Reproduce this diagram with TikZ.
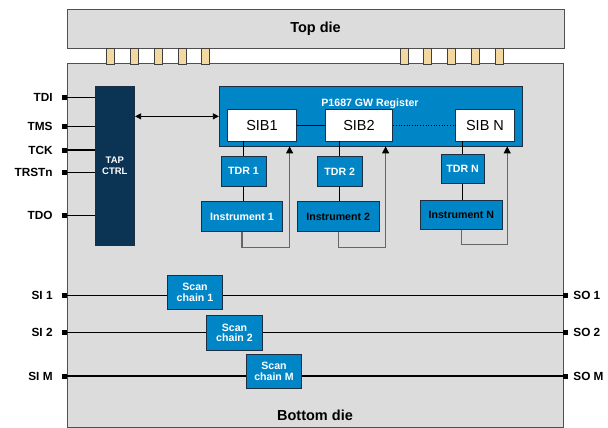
\documentclass[tikz,border=0pt]{standalone}
\usepackage{fontspec}
\setmainfont{Liberation Sans}
\usepackage{tikz}
\usetikzlibrary{arrows.meta,positioning,calc}
\definecolor{diegray}{HTML}{DCDCDC}
\definecolor{dieedge}{HTML}{505050}
\definecolor{gwblue}{HTML}{0086C6}
\definecolor{tapnavy}{HTML}{0B3354}
\definecolor{bumptan}{HTML}{F3D89F}
\definecolor{boxedge}{HTML}{1C2E40}
\newcommand{\fsz}[1]{\fontsize{#1}{#1}\selectfont}

\begin{document}
\begin{tikzpicture}[
  x=1pt, y=-1pt,
  die/.style={draw=dieedge, fill=diegray, line width=0.9pt, inner sep=0},
  bump/.style={draw=black!75, fill=bumptan, line width=0.6pt,
               minimum width=8pt, minimum height=16pt, inner sep=0},
  blk/.style={draw=boxedge, fill=gwblue, line width=0.8pt, inner sep=0,
              align=center, text=white, font=\bfseries\fsz{10.6}},
  sib/.style={draw=boxedge, fill=white, line width=0.8pt, inner sep=0,
              font=\fsz{14.5}},
  pin/.style={fill=black, minimum size=5pt, inner sep=0},
  pinlbl/.style={inner sep=0, font=\bfseries\fsz{11.8}},
  wire/.style={line width=1.3pt},
  lnk/.style={line width=0.7pt},
  fb/.style={draw=black!60, line width=1.2pt,
             -{Triangle[length=7pt,width=7pt,color=black]}},
  dbl/.style={line width=0.8pt,
              {Triangle[length=6pt,width=6pt]}-{Triangle[length=6pt,width=6pt]}}
]
\useasboundingbox (0,0) rectangle (608,428);

% dies
\node[die, minimum width=497pt, minimum height=39pt, font=\bfseries\fsz{14.5}]
  (top) at (315.5,28.5) {Top die};
\node[die, minimum width=496pt, minimum height=364pt] (bot) at (315,245) {};
\node[anchor=base, inner sep=0, font=\bfseries\fsz{14.5}] (botlbl) at (315,420.5) {Bottom die};

\foreach \i in {0,...,4} {
  \node[bump] (bumpL\i) at (110.7+23.75*\i,56) {};
  \node[bump] (bumpR\i) at (404+23.7*\i,56) {};
}

% TAP controller and JTAG pins
\node[draw=boxedge, fill=tapnavy, line width=0.8pt, minimum width=39.7pt,
      minimum height=158.3pt, inner sep=0, align=center, text=white,
      font=\bfseries\fsz{9.5}] (tap) at (114.85,165.85) {TAP\\[1pt]CTRL};

\foreach \nm/\y in {TDI/97.3, TMS/126.7, TCK/150, TRSTn/172.3, TDO/215.7} {
  \node[pin] (pin\nm) at (64.5,\y) {};
  \node[pinlbl, left=9pt of pin\nm] (lbl\nm) {\nm};
  \draw[wire] (pin\nm) -- (pin\nm -| tap.west);
}

% P1687 network
\node[draw=boxedge, fill=gwblue, line width=0.8pt, minimum width=303.4pt,
      minimum height=59.3pt, inner sep=0] (gw) at (371,116.35) {};
\node[inner sep=0, text=white, font=\bfseries\fsz{10.6}] (gwlbl) at (370,103.3)
  {P1687 GW Register};
\node[sib, minimum width=69.4pt, minimum height=31.7pt] (sib1) at (262,125.15) {SIB1};
\node[sib, minimum width=67.4pt, minimum height=31.7pt] (sib2) at (359,125.15) {SIB2};
\node[sib, minimum width=58.6pt, minimum height=31.7pt] (sibN) at (485,125.15) {SIB N};
\draw[lnk] (sib1.east) -- (sib2.west);
\draw[lnk, dotted] (sib2.east) -- (sibN.west);

\draw[dbl] (tap.east |- gw.west) -- (gw.west);

\node[blk, minimum width=45pt, minimum height=29.3pt] (tdr1) at (243.5,171.35) {TDR 1};
\node[blk, minimum width=45pt, minimum height=29.3pt] (tdr2) at (339.8,171.35) {TDR 2};
\node[blk, minimum width=43.3pt, minimum height=29.3pt] (tdrN) at (462.65,168.65) {TDR N};

\node[blk, minimum width=80.6pt, minimum height=30pt] (inst1) at (242,216.7) {Instrument 1};
\node[blk, minimum width=81.7pt, minimum height=30pt, text=black] (inst2) at (338.15,216.7)
  {Instrument 2};
\node[blk, minimum width=82.7pt, minimum height=29.3pt, text=black] (instN) at (461.35,214.65)
  {Instrument N};

\foreach \k in {1,2,N} {
  \draw[lnk] (sib\k.south -| tdr\k.north) -- (tdr\k.north);
  \draw[lnk] (tdr\k.south) -- (tdr\k.south |- inst\k.north);
  \draw[fb] (inst\k.south) -- ++(0,15) -| ([xshift=-7.5pt]sib\k.east |- gw.south);
}

% scan chains
\foreach \k/\y in {1/295.3, 2/332.3, M/376} {
  \node[pin] (si\k) at (64.5,\y) {};
  \node[pin] (so\k) at (565.5,\y) {};
  \node[pinlbl, left=9pt of si\k] (lblsi\k) {SI \k};
  \node[pinlbl, right=5pt of so\k] (lblso\k) {SO \k};
  \draw[wire] (si\k) -- (so\k);
}
\node[blk, minimum width=55.4pt, minimum height=34.3pt] (sc1) at (195,292.15) {Scan\\chain 1};
\node[blk, minimum width=55.4pt, minimum height=34.3pt] (sc2) at (234.5,332.85) {Scan\\chain 2};
\node[blk, minimum width=55.4pt, minimum height=34.3pt] (scM) at (274,371.3) {Scan\\chain M};

\end{tikzpicture}
\end{document}
